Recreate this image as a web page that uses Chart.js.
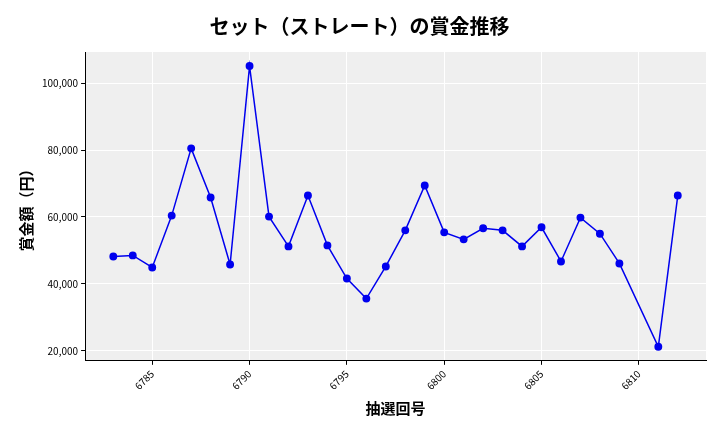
<!DOCTYPE html>
<html><head><meta charset="utf-8">
<script src="https://cdn.jsdelivr.net/npm/chart.js@4"></script>
<style>body{margin:0;background:#fff}#w{width:720px;height:432px}</style>
</head><body><div id="w"><canvas id="c"></canvas></div>
<script>
const draws = [6783,6784,6785,6786,6787,6788,6789,6790,6791,6792,6793,6794,6795,6796,6797,6798,6799,6800,6801,6802,6803,6804,6805,6806,6807,6808,6809,6811,6812];
const prizes = [48200,48500,44900,60400,80500,65800,45800,105100,60100,51200,66400,51500,41600,35600,45200,56000,69400,55400,53300,56600,56000,51200,56900,46700,59800,55000,46100,21200,66400];
const font = "'Noto Sans CJK JP', 'DejaVu Sans', sans-serif";

// grey plot background
const bgPlugin = {
  id: 'bg',
  beforeDraw(chart) {
    const a = chart.chartArea, ctx = chart.ctx;
    ctx.save();
    ctx.fillStyle = '#efefef';
    ctx.fillRect(a.left, a.top, a.right - a.left, a.bottom - a.top);
    ctx.restore();
  }
};

new Chart(document.getElementById('c'), {
  type: 'line',
  data: {
    datasets: [{
      data: draws.map((d, i) => ({ x: d, y: prizes[i] })),
      borderColor: '#0000ee',
      backgroundColor: '#0000ee',
      borderWidth: 1.5,
      pointRadius: 3.2,
      tension: 0
    }]
  },
  options: {
    responsive: true,
    maintainAspectRatio: false,
    animation: false,
    layout: { padding: { left: 13, right: 14, top: 6, bottom: 11 } },
    plugins: {
      legend: { display: false },
      tooltip: { enabled: false },
      title: {
        display: true,
        text: 'セット（ストレート）の賞金推移',
        color: '#000',
        font: { family: font, size: 20, weight: 'bold' },
        padding: { top: 8, bottom: 14 }
      }
    },
    scales: {
      x: {
        type: 'linear',
        min: 6781.55, max: 6813.45,
        afterBuildTicks: s => { s.ticks = [6785,6790,6795,6800,6805,6810].map(v => ({ value: v })); },
        ticks: { color: '#000', font: { family: font, size: 10 }, maxRotation: 45, minRotation: 45, callback: v => String(v) },
        grid: { color: '#ffffff', lineWidth: 1, drawTicks: true, tickColor: '#000', tickLength: 4 },
        border: { color: '#000' },
        title: { display: true, text: '抽選回号', color: '#000', font: { family: font, size: 15, weight: 'bold' } }
      },
      y: {
        min: 17000, max: 109300,
        afterBuildTicks: s => { s.ticks = [20000,40000,60000,80000,100000].map(v => ({ value: v })); },
        ticks: { color: '#000', font: { family: font, size: 10 }, callback: v => v.toLocaleString('en-US') },
        grid: { color: '#ffffff', lineWidth: 1, tickColor: '#000', tickLength: 4 },
        border: { color: '#000' },
        title: { display: true, text: '賞金額（円）', color: '#000', font: { family: font, size: 15, weight: 'bold' } }
      }
    }
  },
  plugins: [bgPlugin]
});
</script></body></html>
